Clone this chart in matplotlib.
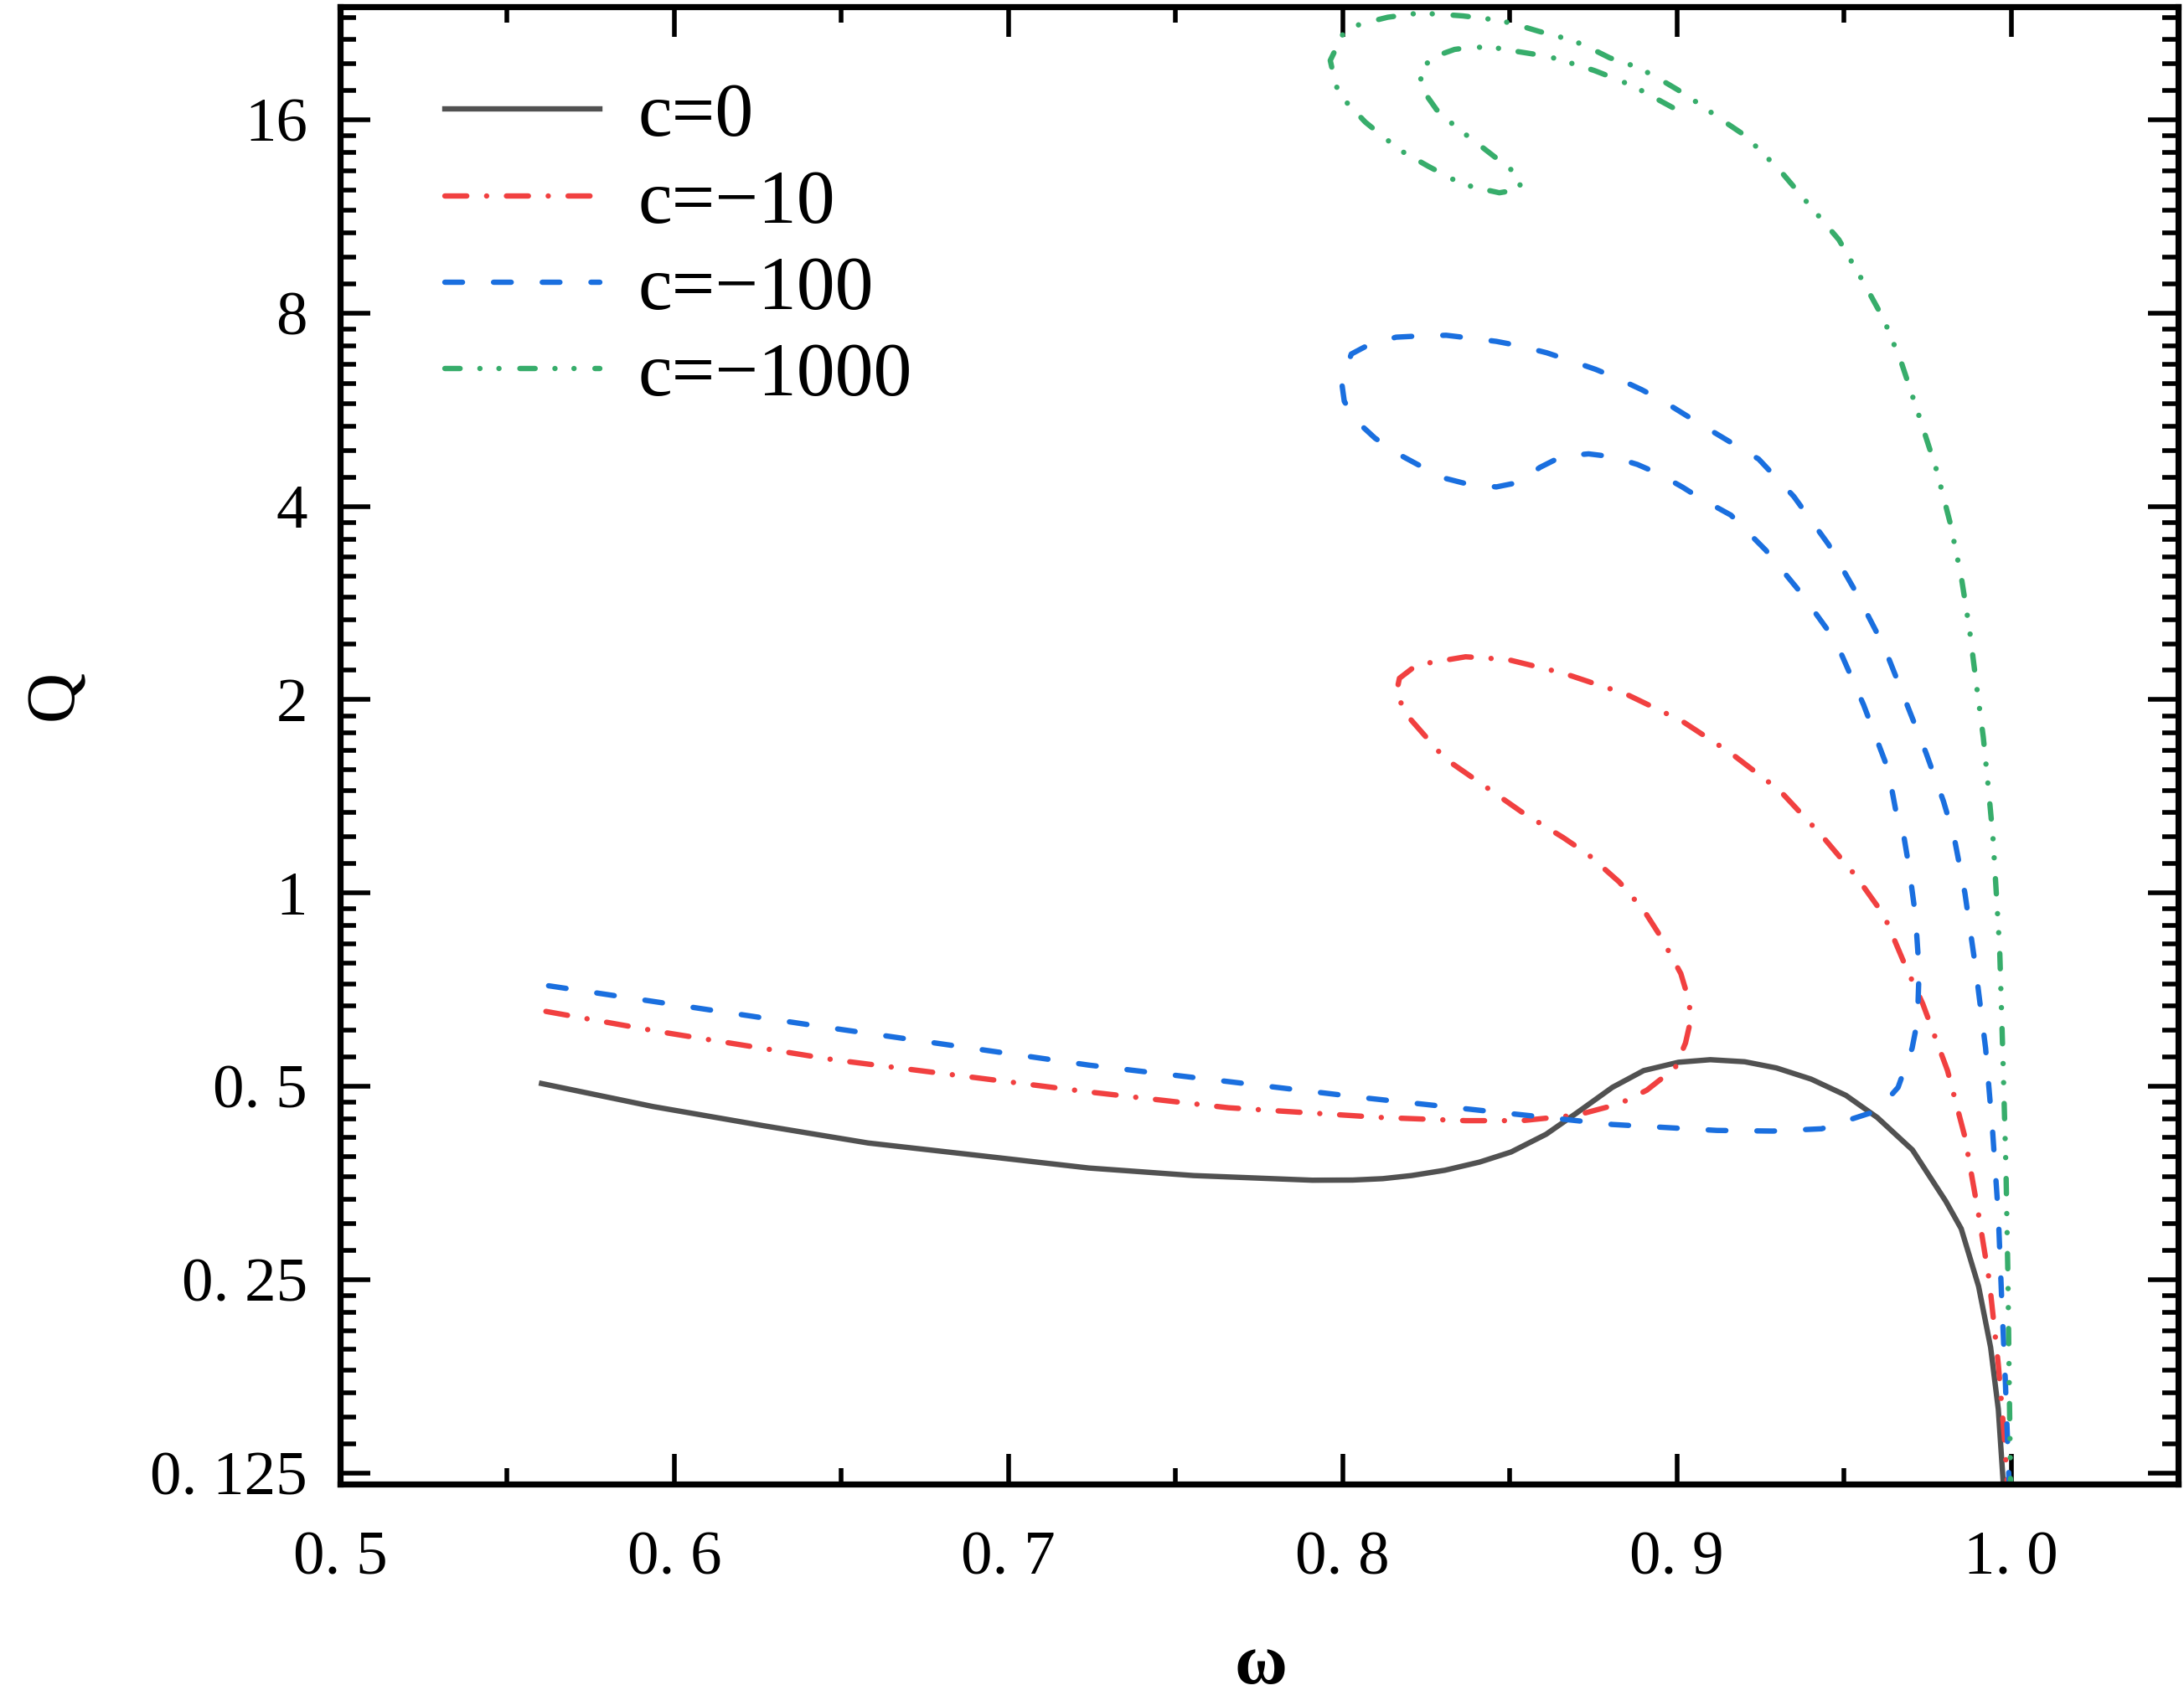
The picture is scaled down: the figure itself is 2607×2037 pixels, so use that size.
import matplotlib
matplotlib.use("Agg")
import matplotlib.pyplot as plt
from matplotlib.ticker import FixedLocator, NullFormatter

plt.rcParams['font.family'] = ['Liberation Serif', 'DejaVu Serif']

# Origin-style palette
gray = '#515151'
red = '#F14040'
blue = '#1A6FDF'
green = '#37AD6B'

# c = 0
w0 = [0.5603, 0.5936, 0.6268, 0.658, 0.6932, 0.724, 0.7554, 0.7909, 0.803, 0.812,
      0.8206, 0.8306, 0.841, 0.8504, 0.8609, 0.8702, 0.8807, 0.8901, 0.9005, 0.910,
      0.9203, 0.9298, 0.9402, 0.9506, 0.960, 0.9705, 0.9805, 0.9851, 0.9903, 0.9939,
      0.9962, 0.9978]
q0 = [0.505, 0.465, 0.434, 0.408, 0.389, 0.373, 0.363, 0.357, 0.3572, 0.359,
      0.363, 0.370, 0.381, 0.395, 0.421, 0.455, 0.498, 0.529, 0.545, 0.550,
      0.546, 0.534, 0.513, 0.484, 0.447, 0.398, 0.331, 0.300, 0.244, 0.196,
      0.157, 0.118]

# c = -10
w10 = [0.5616, 0.5957, 0.6476, 0.724, 0.7658, 0.8118, 0.8368, 0.8536, 0.8702, 0.8828,
       0.891, 0.8995, 0.9026, 0.9041, 0.9037, 0.9012, 0.8953, 0.890, 0.8828, 0.8734,
       0.866, 0.8536, 0.841, 0.8306, 0.8201, 0.816, 0.817, 0.8222, 0.8368, 0.8494,
       0.866, 0.8849, 0.9016, 0.9162, 0.9308, 0.9433, 0.9537, 0.962, 0.9683, 0.9736,
       0.981, 0.9862, 0.9903, 0.9935, 0.9962, 0.998, 0.999]
q10 = [0.654, 0.608, 0.550, 0.490, 0.463, 0.447, 0.442, 0.442, 0.451, 0.4695,
       0.493, 0.534, 0.584, 0.632, 0.678, 0.749, 0.853, 0.942, 1.04, 1.149,
       1.22, 1.337, 1.486, 1.62, 1.87, 2.04, 2.16, 2.266, 2.333, 2.31,
       2.2, 2.04, 1.852, 1.651, 1.444, 1.23, 1.061, 0.923, 0.772, 0.672,
       0.529, 0.417, 0.3155, 0.249, 0.1845, 0.142, 0.118]

# c = -100
w100 = [0.5624, 0.6434, 0.724, 0.7658, 0.8076, 0.8494, 0.8807, 0.912, 0.9287, 0.9433,
        0.96, 0.9662, 0.9704, 0.972, 0.9725, 0.9714, 0.9694, 0.968, 0.9662, 0.9632,
        0.9559, 0.9475, 0.9371, 0.9266, 0.9162, 0.907, 0.9016, 0.8945, 0.8882, 0.8807,
        0.8736, 0.8657, 0.859, 0.8527, 0.846, 0.8377, 0.831, 0.8231, 0.8172, 0.8097,
        0.8047, 0.8005, 0.7997, 0.8026, 0.808, 0.816, 0.8226, 0.831, 0.8377, 0.846,
        0.8527, 0.8611, 0.8673, 0.8757, 0.882, 0.8895, 0.8958, 0.9029, 0.9087, 0.9245,
        0.935, 0.9454, 0.9537, 0.962, 0.9683, 0.9746, 0.9798, 0.983, 0.9862, 0.9893,
        0.9924, 0.9945, 0.9962, 0.9972, 0.9983, 0.9995]
q100 = [0.717, 0.620, 0.5395, 0.5085, 0.479, 0.4538, 0.436, 0.4268, 0.4258, 0.4293,
        0.458, 0.498, 0.573, 0.632, 0.757, 0.923, 1.104, 1.22, 1.287, 1.559,
        1.963, 2.47, 2.935, 3.42, 3.877, 4.12, 4.29, 4.50, 4.65, 4.78,
        4.83, 4.79, 4.60, 4.36, 4.29, 4.33, 4.42, 4.63, 4.81, 5.11,
        5.40, 5.83, 6.25, 6.91, 7.15, 7.34, 7.37, 7.39, 7.32, 7.23,
        7.12, 6.94, 6.77, 6.54, 6.34, 6.08, 5.84, 5.54, 5.31, 4.74,
        4.146, 3.49, 2.935, 2.42, 2.0, 1.651, 1.389, 1.22, 1.0, 0.772,
        0.573, 0.425, 0.3155, 0.234, 0.174, 0.118]

# c = -1000
w1000 = [0.8987, 0.8886, 0.8832, 0.8753, 0.8673, 0.8615, 0.8527, 0.8448, 0.8385, 0.8335,
         0.8276, 0.8233, 0.8235, 0.8281, 0.8343, 0.8389, 0.8456, 0.8523, 0.8534, 0.8469,
         0.8389, 0.8331, 0.8256, 0.8183, 0.8135, 0.8068, 0.8009, 0.798, 0.7963, 0.8001,
         0.8051, 0.8135, 0.8218, 0.8277, 0.836, 0.8444, 0.8502, 0.8586, 0.8665, 0.8719,
         0.8799, 0.8878, 0.8933, 0.9003, 0.9074, 0.912, 0.9204, 0.9308, 0.939, 0.9485,
         0.9559, 0.962, 0.9672, 0.9725, 0.9777, 0.9818, 0.9851, 0.9876, 0.9896, 0.9917,
         0.9933, 0.9946, 0.9966, 0.9976, 0.9985, 0.9991, 0.9995, 0.9999]
q1000 = [16.73, 17.87, 18.41, 19.1, 19.69, 20.09, 20.43, 20.76, 20.76, 20.6,
         20.09, 19.2, 17.95, 16.6, 15.53, 14.9, 14.0, 13.15, 12.48, 12.32,
         12.58, 12.92, 13.55, 14.24, 14.87, 15.87, 17.1, 18.08, 19.8, 21.77,
         22.55, 23.12, 23.43, 23.4, 23.23, 22.95, 22.66, 21.99, 21.44, 20.97,
         19.99, 19.36, 18.73, 17.82, 16.85, 16.19, 15.13, 13.36, 11.9, 10.41,
         8.93, 7.81, 6.7, 5.53, 4.56, 3.77, 3.11, 2.57, 2.12, 1.75,
         1.444, 1.22, 0.819, 0.55, 0.37, 0.249, 0.167, 0.118]

labels = ['c=0', 'c=\u221210', 'c=\u2212100', 'c=\u22121000']

xticks = [0.5, 0.6, 0.7, 0.8, 0.9, 1.0]
xtick_labels = ['0. 5', '0. 6', '0. 7', '0. 8', '0. 9', '1. 0']
yticks = [0.125, 0.25, 0.5, 1, 2, 4, 8, 16]
ytick_labels = ['0. 125', '0. 25', '0. 5', '1', '2', '4', '8', '16']

fig = plt.figure(figsize=(13.035, 10.185), dpi=200)
ax = fig.add_axes([0.1557, 0.130, 0.8416, 0.866])

lw = 2.3
ax.plot(w0, q0, color=gray, lw=lw, label=labels[0])
ax.plot(w10, q10, color=red, lw=lw, linestyle=(0, (4.1, 3.7, 0.01, 3.7)),
        dash_capstyle='round', label=labels[1])
ax.plot(w100, q100, color=blue, lw=lw, linestyle=(0, (3.3, 5.8)),
        dash_capstyle='round', label=labels[2])
ax.plot(w1000, q1000, color=green, lw=lw,
        linestyle=(0, (2.85, 3.7, 0.01, 3.55, 0.01, 3.9)),
        dash_capstyle='round', label=labels[3])

ax.set_yscale('log', base=2)
ax.set_xlim(0.5, 1.05)
ax.set_ylim(0.12, 24)

ax.xaxis.set_major_locator(FixedLocator(xticks))
ax.set_xticklabels(xtick_labels)
ax.xaxis.set_minor_locator(FixedLocator([0.55, 0.65, 0.75, 0.85, 0.95]))

ax.yaxis.set_major_locator(FixedLocator(yticks))
ax.set_yticklabels(ytick_labels)
minor_y = []
for m in yticks:
    for k in range(1, 9):
        minor_y.append(m * (1 + k / 9))
ax.yaxis.set_minor_locator(FixedLocator(minor_y))
ax.yaxis.set_minor_formatter(NullFormatter())

ax.tick_params(which='both', direction='in', top=True, right=True, width=2.0)
ax.tick_params(which='major', length=13, labelsize=27)
ax.tick_params(axis='y', which='major', pad=14)
ax.tick_params(axis='x', which='major', pad=20)
ax.tick_params(which='minor', length=7)
for s in ax.spines.values():
    s.set_linewidth(2.6)

ax.set_xlabel('\u03c9', fontsize=31, fontweight='bold', va='center')
ax.set_ylabel('Q', fontsize=30, va='center', ha='center')
ax.xaxis.set_label_coords(0.501, -0.123)
ax.yaxis.set_label_coords(-0.155, 0.534)

ax.legend(loc='upper left', bbox_to_anchor=(0.057, 0.949), frameon=False,
          fontsize=33, handlelength=2.02, handletextpad=0.5, labelspacing=0.22,
          borderpad=0, borderaxespad=0)

fig.savefig('out.png', dpi=200)
